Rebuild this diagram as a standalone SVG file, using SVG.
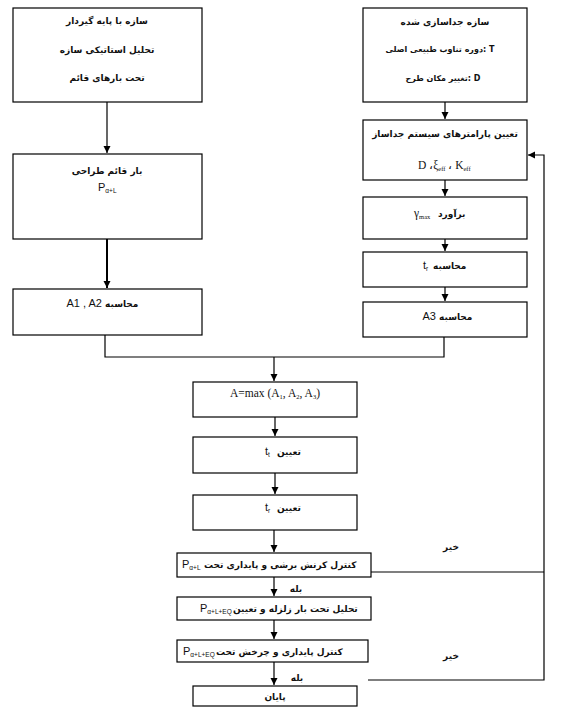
<svg xmlns="http://www.w3.org/2000/svg" width="561" height="718" viewBox="0 0 561 718">
<defs>
<marker id="ah" markerUnits="userSpaceOnUse" markerWidth="8" markerHeight="8" refX="7" refY="4" orient="auto">
<path d="M0,0.5 L7,4 L0,7.5 Z" fill="#000"/>
</marker>
<style>
rect{fill:#fff;stroke:#000;stroke-width:1.2}
.c line,.c path{stroke:#000;stroke-width:1.2;fill:none}
text{font-family:"DejaVu Sans",sans-serif;font-size:9px;font-weight:bold;fill:#111}
.m{text-anchor:middle}
.e{text-anchor:end}
.s{text-anchor:start}
.l{font-family:"Liberation Sans",sans-serif;font-size:11px;font-weight:normal}
.sb{font-size:6.5px}
.tm{font-family:"Liberation Serif",serif;font-size:11.5px;font-weight:normal}
.sm{font-size:8px}
</style>
</defs>
<rect x="0" y="0" width="561" height="718" style="fill:#fff;stroke:none"/>

<g id="n1"><rect x="13" y="8" width="189" height="94"/>
<text class="m" x="107" y="24">سازه با پایه گیردار</text>
<text class="m" x="107" y="53">تحلیل استاتیکی سازه</text>
<text class="m" x="107" y="81">تحت بارهای قائم</text></g>

<g id="n2"><rect x="363" y="8" width="164" height="94"/>
<text class="m" x="445" y="25">سازه جداسازی شده</text>
<text class="m sm" x="440" y="52" direction="ltr">دوره تناوب طبیعی اصلی: T</text>
<text class="m sm" x="443" y="81" direction="ltr">تغییر مکان طرح: D</text></g>

<g id="n3"><rect x="13" y="154" width="189" height="85"/>
<text class="m" x="107" y="174">بار قائم طراحی</text>
<text class="l" x="98" y="191">P<tspan class="sb" dy="2">α+L</tspan></text></g>

<g id="n4"><rect x="13" y="289" width="189" height="46"/>
<text class="e l" x="102" y="307">A1 , A2</text><text class="s" x="105" y="307">محاسبه</text></g>

<g id="r1"><rect x="363" y="120" width="164" height="60"/>
<text class="m" x="445" y="137">تعیین پارامترهای سیستم جداساز</text>
<text class="tm" x="418" y="169">D ،ξ<tspan class="sb" dy="2">eff</tspan><tspan dy="-2">  ، K</tspan><tspan class="sb" dy="2">eff</tspan></text></g>

<g id="r2"><rect x="363" y="197" width="164" height="42"/>
<text class="tm" x="414" y="217">γ<tspan class="sb" dy="2">max</tspan></text><text class="s" x="438" y="217">برآورد</text></g>

<g id="r3"><rect x="363" y="252" width="164" height="35"/>
<text class="l" x="423" y="269">t<tspan class="sb" dy="2">r</tspan></text><text class="s" x="433" y="269">محاسبه</text></g>

<g id="r4"><rect x="363" y="302" width="164" height="35"/>
<text class="e l" x="436" y="320">A3</text><text class="s" x="439" y="320">محاسبه</text></g>

<g id="c1"><rect x="193" y="382" width="164" height="35"/>
<text class="m tm" x="275" y="397">A=max (A<tspan class="sb" dy="2">1</tspan><tspan dy="-2">, A</tspan><tspan class="sb" dy="2">2</tspan><tspan dy="-2">, A</tspan><tspan class="sb" dy="2">3</tspan><tspan dy="-2">)</tspan></text></g>

<g id="c2"><rect x="193" y="437" width="164" height="36"/>
<text class="l" x="265" y="455">t<tspan class="sb" dy="2">t</tspan></text><text class="s" x="277" y="455">تعیین</text></g>

<g id="c3"><rect x="193" y="495" width="164" height="35"/>
<text class="l" x="265" y="511">t<tspan class="sb" dy="2">r</tspan></text><text class="s" x="277" y="511">تعیین</text></g>

<g id="c4"><rect x="177" y="553" width="194" height="24"/>
<text class="l" x="182" y="568">P<tspan class="sb" dy="2">α+L</tspan></text><text class="s" x="204" y="568">کنترل کرنش برشی و پایداری تحت</text></g>

<g id="c5"><rect x="177" y="597" width="194" height="23"/>
<text class="l" x="200" y="612">P<tspan class="sb" dy="2">α+L+EQ</tspan></text><text class="s" x="233" y="612">تحلیل تحت بار زلزله و تعیین</text></g>

<g id="c6"><rect x="177" y="640" width="191" height="22"/>
<text class="l" x="183" y="655">P<tspan class="sb" dy="2">α+L+EQ</tspan></text><text class="s" x="216" y="655">کنترل پایداری و چرخش تحت</text></g>

<g id="c7"><rect x="193" y="686" width="164" height="20"/>
<text class="m" x="275" y="700">پایان</text></g>

<g id="labels">
<text class="m" x="451" y="550">خیر</text>
<text class="m" x="296" y="592">بله</text>
<text class="m" x="451" y="659">خیر</text>
<text class="m" x="297" y="681">بله</text>
</g>

<g class="c" id="connectors">
<line x1="107" y1="102" x2="107" y2="153" marker-end="url(#ah)"/>
<line x1="107" y1="239" x2="107" y2="288" marker-end="url(#ah)" style="stroke-width:2"/>
<path d="M105,335 V357 H444 V337"/>
<line x1="274" y1="357" x2="274" y2="381" marker-end="url(#ah)"/>
<line x1="445" y1="102" x2="445" y2="119" marker-end="url(#ah)"/>
<line x1="445" y1="180" x2="445" y2="196" marker-end="url(#ah)"/>
<line x1="445" y1="239" x2="445" y2="251" marker-end="url(#ah)"/>
<line x1="445" y1="287" x2="445" y2="301" marker-end="url(#ah)"/>
<line x1="275" y1="417" x2="275" y2="436" marker-end="url(#ah)"/>
<line x1="275" y1="473" x2="275" y2="494" marker-end="url(#ah)"/>
<line x1="274" y1="530" x2="274" y2="552" marker-end="url(#ah)"/>
<line x1="274" y1="577" x2="274" y2="596" marker-end="url(#ah)"/>
<line x1="274" y1="620" x2="274" y2="639" marker-end="url(#ah)"/>
<line x1="274" y1="662" x2="274" y2="685" marker-end="url(#ah)"/>
<line x1="371" y1="572" x2="544" y2="572"/>
<path d="M368,680 H544 V155 H528" marker-end="url(#ah)"/>
</g>
</svg>
